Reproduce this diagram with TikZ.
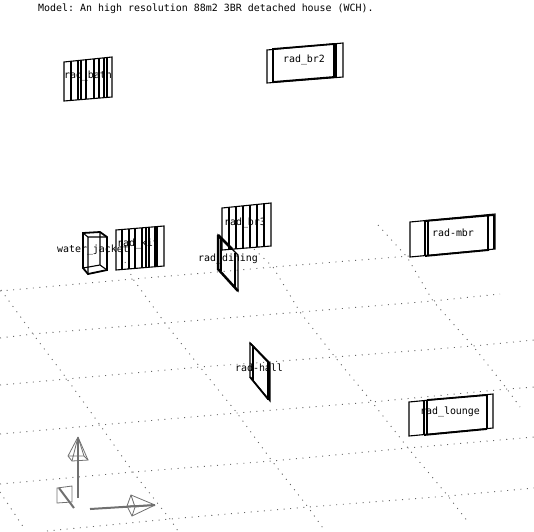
\documentclass[tikz,border=0pt]{standalone}
\usepackage{fontspec}
\setmonofont{DejaVu Sans Mono}
\usetikzlibrary{positioning}
\definecolor{GridGray}{RGB}{100,100,100}
\definecolor{AxisGray}{RGB}{112,112,112}
\tikzset{
  grid line/.style={GridGray,line width=0.9pt,dash pattern=on 1pt off 5.6pt},
  rad thin/.style={black,line width=1.1pt,line join=miter},
  rad edge/.style={black,line width=1.8pt},
  rad thick/.style={black,line width=2.5pt},
  rad label/.style={font=\ttfamily\fontsize{9.95}{10}\selectfont,inner sep=0pt,text=black},
  axis line/.style={AxisGray,line width=2pt},
  axis wire/.style={AxisGray,line width=0.8pt},
}
\begin{document}
\begin{tikzpicture}[x=1pt,y=-1pt]
\useasboundingbox (0,0) rectangle (534,531);

\node[rad label,anchor=west] (title) at (38,9) {Model: An high resolution 88m2 3BR detached house (WCH).};

% Floor grid.
\draw[grid line] (0,291) -- (133,279) -- (217,272) -- (273,267) -- (410,256);
\draw[grid line] (0,338) -- (33,334) -- (165,323) -- (300,312) -- (433,301) -- (500,294);
\draw[grid line] (0,385) -- (67,379) -- (200,367) -- (335,357) -- (473,346) -- (534,340);
\draw[grid line] (0,434) -- (100,425) -- (237,413) -- (372,402) -- (507,389) -- (534,387);
\draw[grid line] (0,484) -- (133,472) -- (272,461) -- (408,448) -- (534,437);
\draw[grid line] (47,531) -- (170,519) -- (308,507) -- (448,496) -- (534,488);
\draw[grid line] (1,290) -- (33,334) -- (67,379) -- (100,425) -- (133,472) -- (170,519) -- (178,531);
\draw[grid line] (0,492) -- (24,528);
\draw[grid line] (125,262) -- (133,279) -- (165,323) -- (200,367) -- (237,413) -- (272,461) -- (308,507) -- (325,531);
\draw[grid line] (254,249) -- (273,267) -- (300,312) -- (335,357) -- (372,402) -- (408,448) -- (448,496) -- (468,522);
\draw[grid line] (378,225) -- (407,257) -- (433,301) -- (473,346) -- (507,389) -- (520,407);

% Bathroom radiator.
\draw[rad thin] (64,62) -- (112,57) -- (112,97) -- (64,101) -- cycle;
\foreach \a/\b/\c in {81/60/100,99/58/98,107/58/97}
  \draw[rad thin] (\a,\b) -- (\a,\c);
\foreach \a/\b/\c in {71/61/100,78/60/100,86/60/99,94/59/99,104/58/98}
  \draw[rad thick] (\a,\b) -- (\a,\c);
\node[rad label] (bath) at (88,76) {rad\_bath};

% Bedroom two radiator.
\draw[rad thin] (267,50) -- (343,43) -- (343,77) -- (267,83) -- cycle;
\draw[rad edge] (273,49) -- (334,44) -- (334,77) -- (273,82) -- cycle;
\draw[rad thin] (336,43) -- (336,77);
\node[rad label] (br2) at (304,60) {rad\_br2};

% Bedroom three radiator.
\draw[rad thin] (222,208) -- (271,203) -- (271,246) -- (222,250) -- cycle;
\foreach \a/\b/\c in {229/207/250,236/206/249,243/206/248,250/205/248,257/204/247,264/204/247}
  \draw[rad thick] (\a,\b) -- (\a,\c);
\node[rad label] (br3) at (245,223) {rad\_br3};

% Main bedroom radiator.
\draw[rad thin] (410,222) -- (495,214) -- (495,249) -- (410,257) -- cycle;
\draw[rad edge] (425,221) -- (494,215) (425,256) -- (489,250);
\draw[rad thick] (425,221) -- (425,256) (494,215) -- (494,249);
\draw[rad thin] (428,220) -- (428,256);
\draw[rad thin] (488,215) -- (488,250);
\node[rad label] (mbr) at (453,233) {rad-mbr};

% Lounge radiator.
\draw[rad thin] (409,402) -- (493,394) -- (493,428) -- (409,436) -- cycle;
\draw[rad edge] (424,435) -- (487,429) (427,400) -- (487,395);
\draw[rad thick] (424,401) -- (424,435);
\draw[rad thin] (427,400) -- (427,435);
\draw[rad thin] (487,395) -- (487,429);
\draw[rad edge] (487,411) -- (487,429);
\node[rad label] (lounge) at (450,412) {rad\_lounge};

% Kitchen radiator.
\draw[rad thin] (116,230) -- (164,226) -- (164,266) -- (116,270) -- cycle;
\foreach \a/\b/\c in {142/228/268,146/227/267,157/227/267}
  \draw[rad thin] (\a,\b) -- (\a,\c);
\foreach \a/\b/\c in {122/229/270,129/229/269,135/228/268,149/227/267,155/227/267}
  \draw[rad thick] (\a,\b) -- (\a,\c);
\node[rad label] (kit) at (138,244) {rad\_kit};

% Water jacket.
\draw[rad edge] (83,233) -- (100,232) -- (107,237) -- (107,270) -- (88,274) -- (83,268) -- cycle;
\draw[rad thin] (88,237) -- (107,237) (88,237) -- (88,274) (83,233) -- (88,237);
\draw[rad thin] (100,232) -- (100,265) -- (83,268) (100,265) -- (107,270);
\node[rad label] (jacket) at (93,250) {water\_jacket};

% Dining radiator.
\draw[rad thin] (218,235) -- (238,255) -- (238,291) -- (218,269) -- cycle;
\draw[rad thin] (221,238) -- (221,271);
\draw[rad thin] (235,253) -- (235,288);
\draw[rad thick] (218,235) -- (218,269) -- (238,291) (218,235) -- (232,249);
\node[rad label] (dining) at (228,259) {rad\_dining};

% Hall radiator.
\draw[rad thin] (250,343) -- (270,363) -- (270,401) -- (250,377) -- cycle;
\draw[rad thin] (253,346) -- (253,380);
\draw[rad edge] (250,343) -- (268,362) (250,377) -- (268,399);
\draw[rad thick] (268.5,362) -- (268.5,400);
\node[rad label] (hall) at (259,368) {rad-hall};

% Axes.
\draw[axis line] (78,498) -- (78,438);
\draw[axis wire] (78,437) -- (68,456) -- (72,461) -- (88,460) -- (78,437);
\draw[axis wire] (78,437) -- (72,461) (78,437) -- (84,456) (68,456) -- (84,456) -- (88,460);
\draw[axis line] (90,509) -- (155,505);
\draw[axis wire] (155,505) -- (131,495) -- (127,506) -- (132,516) -- (155,505);
\draw[axis wire] (155,505) -- (127,506) (131,495) -- (135,507) -- (132,516) (135,507) -- (155,505);
\draw[axis wire] (57,488) -- (72,486) -- (72,502) -- (57,503) -- cycle;
\draw[axis line] (59,488) -- (74,508);

\end{tikzpicture}
\end{document}
